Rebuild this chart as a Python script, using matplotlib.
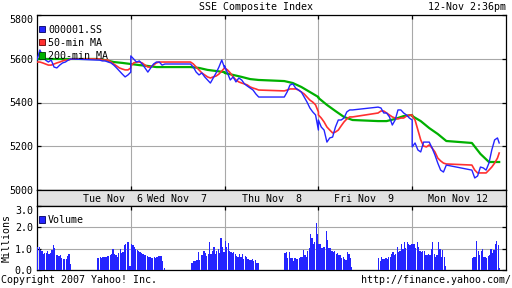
import numpy as np
import matplotlib
matplotlib.use("Agg")
import matplotlib.pyplot as plt
from matplotlib.patches import Patch

plt.rcParams['font.family'] = ['DejaVu Sans Mono']
plt.rcParams['font.size'] = 7.2

days = ["Tue Nov  6", "Wed Nov  7", "Thu Nov  8", "Fri Nov  9", "Mon Nov 12"]

# minutes after 9:30 (session 9:30-11:30, 13:00-15:00), last day stops at 14:36
am_10 = list(range(0, 121, 10))
pm_10 = list(range(210, 331, 10))
pm_10_last = list(range(210, 301, 10)) + [306]
am_30 = [0, 30, 60, 90, 120]
pm_30 = [210, 240, 270, 300, 330]
pm_30_last = [210, 240, 270, 300, 306]
am_5 = list(range(0, 120, 5))
pm_5 = list(range(210, 330, 5))
pm_5_last = list(range(210, 310, 5))

# 000001.SS, 10-minute samples
index_close = [
    [5594, 5640, 5613, 5594, 5585, 5594, 5562, 5558, 5571, 5581, 5585, 5594, 5599,
     5594, 5594, 5590, 5590, 5585, 5581, 5571, 5558, 5544, 5530, 5517, 5526, 5539],
    [5613, 5599, 5585, 5590, 5576, 5558, 5539, 5558, 5576, 5585, 5585, 5571, 5576,
     5576, 5562, 5539, 5526, 5535, 5517, 5503, 5489, 5512, 5535, 5562, 5594, 5558],
    [5567, 5535, 5503, 5517, 5494, 5512, 5503, 5485, 5475, 5466, 5457, 5439, 5425,
     5425, 5448, 5480, 5485, 5466, 5457, 5448, 5425, 5402, 5375, 5357, 5343, 5274],
    [5320, 5288, 5274, 5219, 5238, 5242, 5288, 5320, 5320, 5329, 5357, 5366, 5366,
     5379, 5375, 5352, 5352, 5334, 5297, 5320, 5366, 5366, 5352, 5343, 5329, 5320],
    [5197, 5215, 5183, 5174, 5219, 5219, 5219, 5192, 5160, 5123, 5091, 5082, 5114,
     5091, 5055, 5064, 5105, 5101, 5091, 5123, 5183, 5229, 5238, 5215],
]

# 50-min MA, 10-minute samples
ma50 = [
    [5585, 5585, 5581, 5576, 5571, 5571, 5576, 5581, 5585, 5590, 5594, 5594, 5599,
     5599, 5599, 5594, 5594, 5594, 5585, 5576, 5567, 5558, 5553, 5549, 5549, 5558],
    [5567, 5581, 5585, 5585, 5581, 5571, 5562, 5562, 5571, 5581, 5585, 5585, 5585,
     5585, 5576, 5562, 5549, 5535, 5526, 5517, 5512, 5517, 5521, 5530, 5544, 5558],
    [5558, 5549, 5535, 5517, 5503, 5494, 5489, 5485, 5480, 5471, 5466, 5462, 5457,
     5453, 5457, 5462, 5462, 5462, 5457, 5448, 5439, 5425, 5411, 5402, 5389, 5357],
    [5343, 5329, 5311, 5288, 5274, 5261, 5265, 5274, 5293, 5311, 5325, 5334, 5334,
     5352, 5361, 5361, 5352, 5343, 5334, 5329, 5325, 5329, 5329, 5338, 5343, 5343],
    [5338, 5320, 5274, 5229, 5201, 5197, 5206, 5192, 5174, 5146, 5133, 5123, 5119,
     5114, 5091, 5078, 5078, 5078, 5078, 5091, 5105, 5123, 5146, 5169],
]

# 200-min MA, 30-minute samples
ma200 = [
    [5599, 5599, 5599, 5599, 5599, 5599, 5594, 5585, 5581, 5576],
    [5576, 5571, 5567, 5562, 5562, 5562, 5558, 5549, 5544, 5539],
    [5535, 5526, 5517, 5507, 5503, 5498, 5489, 5471, 5448, 5425],
    [5421, 5389, 5361, 5334, 5320, 5315, 5315, 5325, 5338, 5343],
    [5338, 5315, 5283, 5256, 5224, 5215, 5165, 5128, 5128, 5128],
]

# volume in millions, 5-minute bars
volume = [
    [1.1, 1.1, 0.95, 0.9, 0.75, 0.8, 0.8, 0.9, 0.75, 0.8, 0.95, 1.15, 1.05, 0.7, 0.7, 0.65,
     0.7, 0.55, 0.5, 0.5, 0.5, 0.65, 0.75, 0.3,
     0.55, 0.55, 0.6, 0.55, 0.6, 0.6, 0.6, 0.65, 0.65, 0.7, 0.75, 1.0, 0.75, 0.7, 0.6, 0.8,
     1.0, 0.8, 0.85, 1.15, 1.2, 1.3, 1.3, 0.2],
    [1.2, 1.15, 1.1, 1.0, 0.95, 0.9, 0.85, 0.8, 0.75, 0.7, 0.7, 0.65, 0.6, 0.6, 0.55, 0.55,
     0.6, 0.55, 0.6, 0.65, 0.65, 0.65, 0.4, 0.1,
     0.35, 0.35, 0.4, 0.4, 0.45, 0.85, 0.45, 0.7, 0.7, 0.9, 0.8, 0.65, 0.75, 1.3, 0.75, 0.9,
     1.1, 0.75, 0.9, 1.0, 0.8, 1.5, 1.1, 0.85],
    [1.35, 1.1, 1.25, 0.9, 0.85, 0.8, 0.85, 0.75, 0.65, 0.6, 0.75, 0.6, 0.75, 0.5, 0.65, 0.6,
     0.5, 0.45, 0.45, 0.5, 0.4, 0.45, 0.35, 0.35,
     0.8, 0.85, 0.55, 0.85, 0.55, 0.55, 0.4, 0.55, 0.5, 0.5, 0.55, 0.6, 0.6, 0.95, 0.7, 0.6,
     0.9, 1.05, 1.7, 1.5, 1.2, 1.3, 2.2, 1.7],
    [1.2, 1.2, 1.05, 1.1, 1.1, 1.85, 1.4, 1.05, 1.05, 0.9, 0.85, 0.9, 0.75, 0.8, 0.7, 0.7,
     0.55, 0.6, 0.5, 0.45, 0.85, 0.75, 0.55, 0.15,
     0.55, 0.4, 0.6, 0.5, 0.5, 0.55, 0.5, 0.6, 0.6, 0.75, 0.85, 0.7, 0.75, 1.1, 0.85, 0.9,
     1.2, 1.0, 1.3, 1.05, 1.3, 1.2, 1.15, 1.2],
    [1.2, 1.2, 1.05, 1.3, 1.1, 0.9, 0.85, 0.9, 0.9, 0.7, 0.7, 0.75, 0.7, 1.0, 1.3, 0.75,
     0.6, 0.7, 1.3, 1.0, 0.6, 0.95, 0.6, 0.2,
     0.55, 0.6, 0.6, 1.35, 0.9, 0.7, 0.9, 1.0, 0.6, 0.6, 0.55, 0.65, 0.7, 1.0, 0.8, 0.95,
     1.2, 1.35, 1.15, 0.1],
]

BLUE = '#2424ff'
RED = '#ff3030'
GREEN = '#00b000'
GRID = '#a8a8a8'
DAY_MIN = 330.0


def series(values, am, pm, pm_last):
    xs, ys = [], []
    for d, vals in enumerate(values):
        mins = am + (pm if d < len(values) - 1 else pm_last)
        xs.extend(d + np.array(mins) / DAY_MIN)
        ys.extend(vals)
    return np.array(xs), np.array(ys)


W, H = 512, 288


def box(l, t, r, b):
    return [l / W, 1 - b / H, (r - l) / W, (b - t) / H]


fig = plt.figure(figsize=(W / 100, H / 100), dpi=100)
ax = fig.add_axes(box(37, 15, 506, 190))
ax_d = fig.add_axes(box(37, 190, 506, 206))
ax_v = fig.add_axes(box(37, 206, 506, 270))

for a in (ax, ax_d, ax_v):
    a.set_xlim(0, 5)
    for s in a.spines.values():
        s.set_linewidth(0.9)
        s.set_color('black')

# price panel
x, y = series(ma200, am_30, pm_30, pm_30_last)
ax.plot(x, y, color=GREEN, lw=1.6, zorder=3)
x, y = series(ma50, am_10, pm_10, pm_10_last)
ax.plot(x, y, color=RED, lw=1.2, zorder=4)
x, y = series(index_close, am_10, pm_10, pm_10_last)
ax.plot(x, y, color=BLUE, lw=1.0, zorder=5)

ax.set_ylim(5000, 5800)
ax.set_yticks([5000, 5200, 5400, 5600, 5800])
ax.set_xticks([1, 2, 3, 4])
ax.set_xticklabels([])
ax.grid(True, color=GRID, lw=0.8)
ax.tick_params(direction='in', length=3, width=0.9, left=True, right=True,
               top=True, bottom=True, pad=3)
ax.get_yticklabels()[-1].set_va('top')
ax.legend(handles=[Patch(facecolor=BLUE, edgecolor='#000060', lw=0.6, label='000001.SS'),
                   Patch(facecolor=RED, edgecolor='#600000', lw=0.6, label='50-min MA'),
                   Patch(facecolor=GREEN, edgecolor='#004000', lw=0.6, label='200-min MA')],
          loc='upper left', bbox_to_anchor=(0.004, 0.945), frameon=False,
          borderpad=0, borderaxespad=0, handlelength=0.6, handleheight=0.6,
          handletextpad=0.3, labelspacing=0.32)

# date strip
ax_d.set_facecolor('#e2e2e2')
ax_d.set_ylim(0, 1)
ax_d.set_xticks([])
ax_d.set_yticks([])
label_pos = [0.81, 1.49, 2.5, 3.49, 4.49]
for px, lab in zip(label_pos, days):
    ax_d.text(px, 0.45, lab, ha='center', va='center')

# volume panel
for d, vols in enumerate(volume):
    mins = am_5 + (pm_5 if d < 4 else pm_5_last)
    bx = d + (np.array(mins) + 2.5) / DAY_MIN
    ax_v.bar(bx, vols, width=4.4 / DAY_MIN, color=BLUE, lw=0, zorder=3)
ax_v.set_ylim(0, 3.0)
ax_v.set_yticks([0, 1, 2, 3])
ax_v.set_yticklabels(['0.0', '1.0', '2.0', '3.0'])
ax_v.get_yticklabels()[-1].set_va('top')
ax_v.set_xticks([1, 2, 3, 4])
ax_v.set_xticklabels([])
ax_v.grid(True, color=GRID, lw=0.8)
ax_v.tick_params(direction='in', length=3, width=0.9, left=True, right=True,
                 top=True, bottom=True, pad=3)
ax_v.legend(handles=[Patch(facecolor=BLUE, edgecolor='#000060', lw=0.6, label='Volume')],
            loc='upper left', bbox_to_anchor=(0.004, 0.86), frameon=False,
            borderpad=0, borderaxespad=0, handlelength=0.6, handleheight=0.6,
            handletextpad=0.3)

fig.text(7 / W, 1 - 238 / H, 'Millions', rotation=90, ha='center', va='center')
fig.text(256 / W, 1 - 7 / H, 'SSE Composite Index', ha='center', va='center')
fig.text(506 / W, 1 - 7 / H, '12-Nov 2:36pm', ha='right', va='center')
fig.text(1 / W, 1 - 280 / H, 'Copyright 2007 Yahoo! Inc.', ha='left', va='center')
fig.text(511 / W, 1 - 280 / H, 'http://finance.yahoo.com/', ha='right', va='center')

fig.savefig('out.png', dpi=100)
